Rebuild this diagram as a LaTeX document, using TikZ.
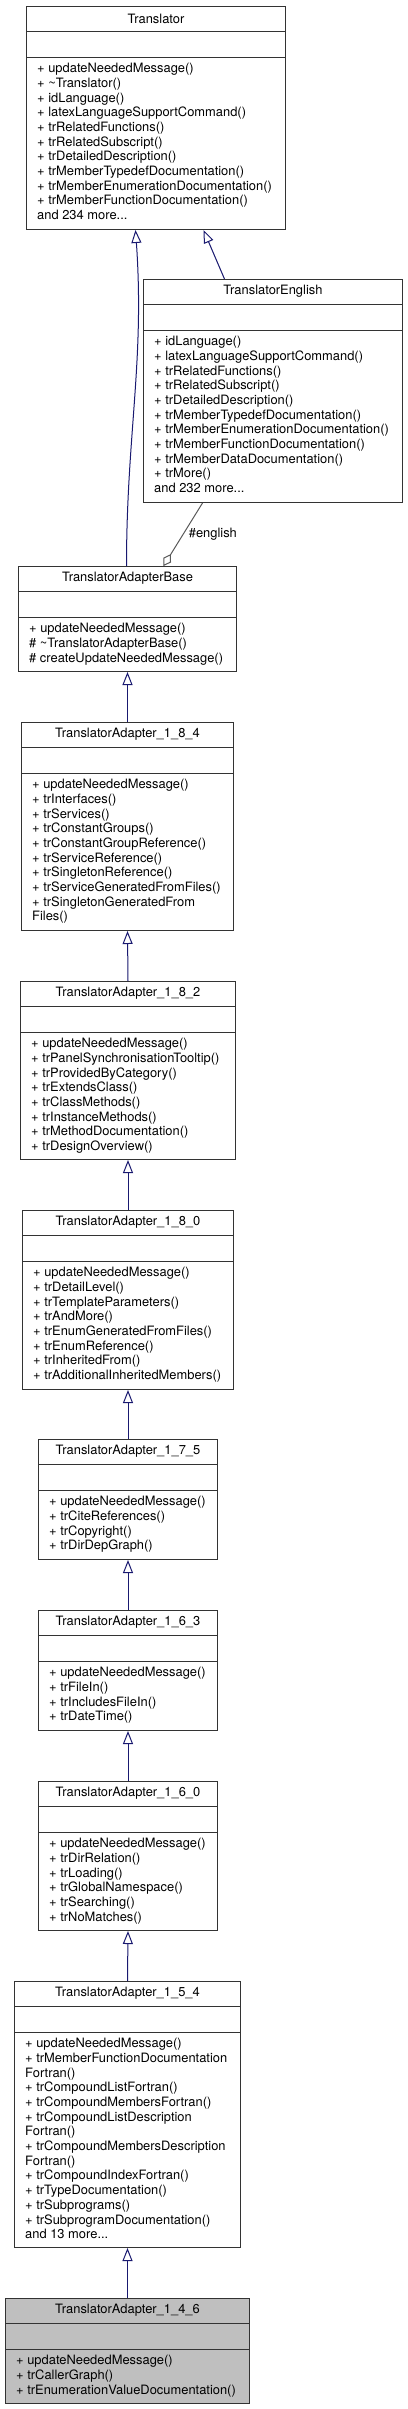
\documentclass[tikz,border=0pt]{standalone}
\usepackage{fontspec}
\setmainfont{TeX Gyre Heros}
\usepackage{tikz}
\usetikzlibrary{arrows.meta,positioning}
\definecolor{midnight}{HTML}{191970}
\definecolor{boxgray}{HTML}{BFBFBF}
\newcommand{\umlfont}{\fontsize{12.9}{14.7}\selectfont}

\begin{document}
\begin{tikzpicture}[x=1pt, y=-1pt,
    classbox/.style={draw=black!80, line width=1pt, fill=white, anchor=north west, inner sep=0pt},
    classname/.style={font=\umlfont, inner sep=0pt},
    members/.style={font=\umlfont, align=left, anchor=north west, inner sep=0pt},
    sep/.style={draw=black!80, line width=1pt},
    inherit/.style={draw=midnight, line width=1pt, -{Triangle[open, length=13pt, width=10pt]}},
    aggr/.style={draw=black!65, line width=1pt, -{Diamond[open, length=14pt, width=9pt]}}]

    \useasboundingbox[fill=white] (0,0) rectangle (407,2409);

    % Translator
    \node[classbox, minimum width=259pt, minimum height=223pt] (tr) at (26,6) {};
    \draw[sep] ([yshift=-25.5pt]tr.north west) -- ([yshift=-25.5pt]tr.north east);
    \draw[sep] ([yshift=-51pt]tr.north west) -- ([yshift=-51pt]tr.north east);
    \node[classname] at ([yshift=-12.5pt]tr.north) {Translator};
    \node[members] at ([shift={(11,57)}]tr.north west) {+ updateNeededMessage()\\
        + \textasciitilde Translator()\\ + idLanguage()\\ + latexLanguageSupportCommand()\\
        + trRelatedFunctions()\\ + trRelatedSubscript()\\ + trDetailedDescription()\\
        + trMemberTypedefDocumentation()\\ + trMemberEnumerationDocumentation()\\
        + trMemberFunctionDocumentation()\\ and 234 more...};

    % TranslatorEnglish
    \node[classbox, minimum width=259pt, minimum height=223pt] (te) at (143,279) {};
    \draw[sep] ([yshift=-25.5pt]te.north west) -- ([yshift=-25.5pt]te.north east);
    \draw[sep] ([yshift=-51pt]te.north west) -- ([yshift=-51pt]te.north east);
    \node[classname] at ([yshift=-12.5pt]te.north) {TranslatorEnglish};
    \node[members] at ([shift={(11,57)}]te.north west) {+ idLanguage()\\
        + latexLanguageSupportCommand()\\ + trRelatedFunctions()\\ + trRelatedSubscript()\\
        + trDetailedDescription()\\ + trMemberTypedefDocumentation()\\
        + trMemberEnumerationDocumentation()\\ + trMemberFunctionDocumentation()\\
        + trMemberDataDocumentation()\\ + trMore()\\ and 232 more...};

    % TranslatorAdapterBase
    \node[classbox, minimum width=218pt, minimum height=105pt] (tab) at (18,566) {};
    \draw[sep] ([yshift=-25.5pt]tab.north west) -- ([yshift=-25.5pt]tab.north east);
    \draw[sep] ([yshift=-51pt]tab.north west) -- ([yshift=-51pt]tab.north east);
    \node[classname] at ([yshift=-12.5pt]tab.north) {TranslatorAdapterBase};
    \node[members] at ([shift={(11,57)}]tab.north west) {+ updateNeededMessage()\\
        \# \textasciitilde TranslatorAdapterBase()\\ \# createUpdateNeededMessage()};

    % TranslatorAdapter_1_8_4
    \node[classbox, minimum width=212pt, minimum height=208pt] (ta184) at (21,722) {};
    \draw[sep] ([yshift=-25.5pt]ta184.north west) -- ([yshift=-25.5pt]ta184.north east);
    \draw[sep] ([yshift=-51pt]ta184.north west) -- ([yshift=-51pt]ta184.north east);
    \node[classname] at ([yshift=-12.5pt]ta184.north) {TranslatorAdapter\_1\_8\_4};
    \node[members] at ([shift={(11,57)}]ta184.north west) {+ updateNeededMessage()\\
        + trInterfaces()\\ + trServices()\\ + trConstantGroups()\\
        + trConstantGroupReference()\\ + trServiceReference()\\ + trSingletonReference()\\
        + trServiceGeneratedFromFiles()\\ + trSingletonGeneratedFrom\\ Files()};

    % TranslatorAdapter_1_8_2
    \node[classbox, minimum width=215pt, minimum height=178pt] (ta182) at (20,981) {};
    \draw[sep] ([yshift=-25.5pt]ta182.north west) -- ([yshift=-25.5pt]ta182.north east);
    \draw[sep] ([yshift=-51pt]ta182.north west) -- ([yshift=-51pt]ta182.north east);
    \node[classname] at ([yshift=-12.5pt]ta182.north) {TranslatorAdapter\_1\_8\_2};
    \node[members] at ([shift={(11,57)}]ta182.north west) {+ updateNeededMessage()\\
        + trPanelSynchronisationTooltip()\\ + trProvidedByCategory()\\ + trExtendsClass()\\
        + trClassMethods()\\ + trInstanceMethods()\\ + trMethodDocumentation()\\
        + trDesignOverview()};

    % TranslatorAdapter_1_8_0
    \node[classbox, minimum width=211pt, minimum height=179pt] (ta180) at (22,1210) {};
    \draw[sep] ([yshift=-25.5pt]ta180.north west) -- ([yshift=-25.5pt]ta180.north east);
    \draw[sep] ([yshift=-51pt]ta180.north west) -- ([yshift=-51pt]ta180.north east);
    \node[classname] at ([yshift=-12.5pt]ta180.north) {TranslatorAdapter\_1\_8\_0};
    \node[members] at ([shift={(11,57)}]ta180.north west) {+ updateNeededMessage()\\
        + trDetailLevel()\\ + trTemplateParameters()\\ + trAndMore()\\
        + trEnumGeneratedFromFiles()\\ + trEnumReference()\\ + trInheritedFrom()\\
        + trAdditionalInheritedMembers()};

    % TranslatorAdapter_1_7_5
    \node[classbox, minimum width=179pt, minimum height=120pt] (ta175) at (38,1439) {};
    \draw[sep] ([yshift=-25.5pt]ta175.north west) -- ([yshift=-25.5pt]ta175.north east);
    \draw[sep] ([yshift=-51pt]ta175.north west) -- ([yshift=-51pt]ta175.north east);
    \node[classname] at ([yshift=-12.5pt]ta175.north) {TranslatorAdapter\_1\_7\_5};
    \node[members] at ([shift={(11,57)}]ta175.north west) {+ updateNeededMessage()\\
        + trCiteReferences()\\ + trCopyright()\\ + trDirDepGraph()};

    % TranslatorAdapter_1_6_3
    \node[classbox, minimum width=179pt, minimum height=120pt] (ta163) at (38,1610) {};
    \draw[sep] ([yshift=-25.5pt]ta163.north west) -- ([yshift=-25.5pt]ta163.north east);
    \draw[sep] ([yshift=-51pt]ta163.north west) -- ([yshift=-51pt]ta163.north east);
    \node[classname] at ([yshift=-12.5pt]ta163.north) {TranslatorAdapter\_1\_6\_3};
    \node[members] at ([shift={(11,57)}]ta163.north west) {+ updateNeededMessage()\\
        + trFileIn()\\ + trIncludesFileIn()\\ + trDateTime()};

    % TranslatorAdapter_1_6_0
    \node[classbox, minimum width=179pt, minimum height=149pt] (ta160) at (38,1781) {};
    \draw[sep] ([yshift=-25.5pt]ta160.north west) -- ([yshift=-25.5pt]ta160.north east);
    \draw[sep] ([yshift=-51pt]ta160.north west) -- ([yshift=-51pt]ta160.north east);
    \node[classname] at ([yshift=-12.5pt]ta160.north) {TranslatorAdapter\_1\_6\_0};
    \node[members] at ([shift={(11,57)}]ta160.north west) {+ updateNeededMessage()\\
        + trDirRelation()\\ + trLoading()\\ + trGlobalNamespace()\\ + trSearching()\\
        + trNoMatches()};

    % TranslatorAdapter_1_5_4
    \node[classbox, minimum width=226pt, minimum height=266pt] (ta154) at (14,1981) {};
    \draw[sep] ([yshift=-25.5pt]ta154.north west) -- ([yshift=-25.5pt]ta154.north east);
    \draw[sep] ([yshift=-51pt]ta154.north west) -- ([yshift=-51pt]ta154.north east);
    \node[classname] at ([yshift=-12.5pt]ta154.north) {TranslatorAdapter\_1\_5\_4};
    \node[members] at ([shift={(11,57)}]ta154.north west) {+ updateNeededMessage()\\
        + trMemberFunctionDocumentation\\ Fortran()\\ + trCompoundListFortran()\\
        + trCompoundMembersFortran()\\ + trCompoundListDescription\\ Fortran()\\
        + trCompoundMembersDescription\\ Fortran()\\ + trCompoundIndexFortran()\\
        + trTypeDocumentation()\\ + trSubprograms()\\ + trSubprogramDocumentation()\\
        and 13 more...};

    % TranslatorAdapter_1_4_6
    \node[classbox, fill=boxgray, minimum width=244pt, minimum height=105pt] (ta146) at (5,2298) {};
    \draw[sep] ([yshift=-25.5pt]ta146.north west) -- ([yshift=-25.5pt]ta146.north east);
    \draw[sep] ([yshift=-51pt]ta146.north west) -- ([yshift=-51pt]ta146.north east);
    \node[classname] at ([yshift=-12.5pt]ta146.north) {TranslatorAdapter\_1\_4\_6};
    \node[members] at ([shift={(11,57)}]ta146.north west) {+ updateNeededMessage()\\
        + trCallerGraph()\\ + trEnumerationValueDocumentation()};

    % inheritance
    \draw[inherit] ([xshift=-1pt]tab.north) to[out=90, in=-86] ([xshift=-20.5pt]tr.south);
    \draw[inherit] ([xshift=-48.5pt]te.north) -- ([xshift=47.5pt]tr.south);
    \draw[inherit] (ta184.north) -- (tab.south);
    \draw[inherit] (ta182.north) -- (ta184.south);
    \draw[inherit] (ta180.north) -- (ta182.south);
    \draw[inherit] (ta175.north) -- (ta180.south);
    \draw[inherit] (ta163.north) -- (ta175.south);
    \draw[inherit] (ta160.north) -- (ta163.south);
    \draw[inherit] (ta154.north) -- (ta160.south);
    \draw[inherit] (ta146.north) -- (ta154.south);

    % aggregation
    \draw[aggr] ([xshift=-70.5pt]te.south) -- node[right, font=\umlfont, xshift=2pt] {\#english} ([xshift=36pt]tab.north);
\end{tikzpicture}
\end{document}
